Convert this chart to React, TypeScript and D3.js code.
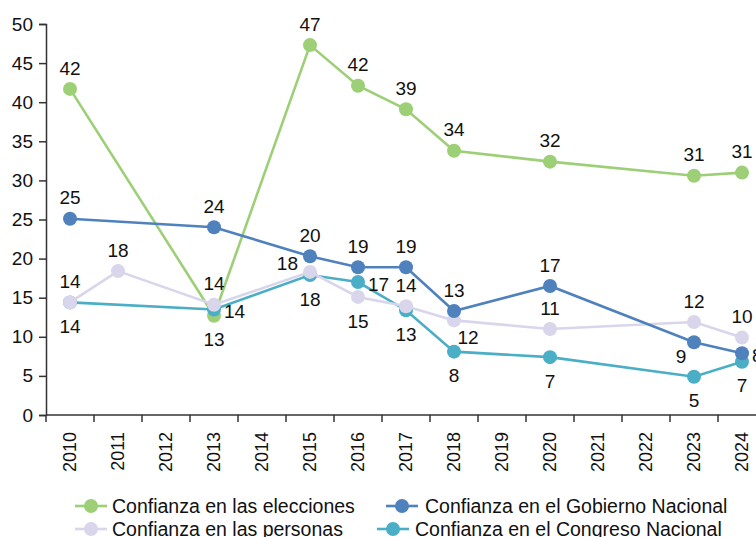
import React, { useEffect, useRef } from "react";
import * as d3 from "d3";

// all years on the category axis
const years = [
  "2010", "2011", "2012", "2013", "2014", "2015", "2016", "2017",
  "2018", "2019", "2020", "2021", "2022", "2023", "2024",
];
const yTicks = [0, 5, 10, 15, 20, 25, 30, 35, 40, 45, 50];

// Confianza en las elecciones
const eleccionesYears = ["2010", "2013", "2015", "2016", "2017", "2018", "2020", "2023", "2024"];
const elecciones = [41.7, 12.7, 47.3, 42.1, 39.1, 33.8, 32.4, 30.6, 31.0];

// Confianza en el Gobierno Nacional
const gobiernoYears = ["2010", "2013", "2015", "2016", "2017", "2018", "2020", "2023", "2024"];
const gobierno = [25.1, 24.0, 20.3, 18.9, 18.9, 13.3, 16.5, 9.3, 7.9];

// Confianza en las personas
const personasYears = ["2010", "2011", "2013", "2015", "2016", "2017", "2018", "2020", "2023", "2024"];
const personas = [14.4, 18.4, 14.1, 18.3, 15.1, 13.9, 12.1, 11.0, 11.9, 9.9];

// Confianza en el Congreso Nacional
const congresoYears = ["2010", "2013", "2015", "2016", "2017", "2018", "2020", "2023", "2024"];
const congreso = [14.4, 13.5, 17.9, 17.0, 13.4, 8.1, 7.4, 4.9, 6.8];

// where each value label sits relative to its point
const eleccionesPos = ["t", "b", "t", "t", "t", "t", "t", "t", "t"];
const gobiernoPos = ["t", "t", "t", "t", "t", "t", "t", "bl", "r"];
const personasPos = ["t", "t", "t", "l", "b", "t", "br", "t", "t", "t"];
const congresoPos = ["b", "r", "b", "r", "b", "b", "b", "b", "b"];

const series = [
  { name: "Confianza en las elecciones", years: eleccionesYears, values: elecciones, pos: eleccionesPos, color: "#9ccf76" },
  { name: "Confianza en el Congreso Nacional", years: congresoYears, values: congreso, pos: congresoPos, color: "#4aaec6" },
  { name: "Confianza en las personas", years: personasYears, values: personas, pos: personasPos, color: "#d9d5eb" },
  { name: "Confianza en el Gobierno Nacional", years: gobiernoYears, values: gobierno, pos: gobiernoPos, color: "#4f81bd" },
];

// legend order as in the picture (rows of two)
const legendOrder = [
  "Confianza en las elecciones",
  "Confianza en el Gobierno Nacional",
  "Confianza en las personas",
  "Confianza en el Congreso Nacional",
];

const FONT = "'Liberation Sans', Arial, sans-serif";

const App = () => {
  const ref = useRef<SVGSVGElement | null>(null);

  useEffect(() => {
    const width = 756;
    const height = 537;
    const left = 46;
    const top = 24;
    const bottom = 415;
    const band = 48;

    const svg = d3.select(ref.current);
    svg.selectAll("*").remove();

    const x = d3
      .scaleBand()
      .domain(years)
      .range([left, left + band * years.length])
      .padding(0);
    const y = d3.scaleLinear().domain([0, 50]).range([bottom, top]);
    const cx = (yr: string) => (x(yr) as number) + x.bandwidth() / 2;

    // y axis
    const yAxis = svg
      .append("g")
      .attr("transform", `translate(${left},0)`)
      .call(d3.axisLeft(y).tickValues(yTicks).tickSize(7).tickPadding(6));
    yAxis.select(".domain").attr("stroke", "#333").attr("stroke-width", 1.5);
    yAxis.selectAll(".tick line").attr("stroke", "#333").attr("stroke-width", 1.5);
    yAxis
      .selectAll(".tick text")
      .attr("font-family", FONT)
      .attr("font-size", 19)
      .attr("fill", "#111");

    // x axis: ticks between categories
    const xg = svg.append("g");
    xg.append("line")
      .attr("x1", left)
      .attr("x2", width + 20)
      .attr("y1", bottom)
      .attr("y2", bottom)
      .attr("stroke", "#333")
      .attr("stroke-width", 1.5);
    xg.selectAll("line.tk")
      .data(years)
      .join("line")
      .attr("class", "tk")
      .attr("x1", (d) => x(d) as number)
      .attr("x2", (d) => x(d) as number)
      .attr("y1", bottom)
      .attr("y2", bottom + 7)
      .attr("stroke", "#333")
      .attr("stroke-width", 1.5);
    xg.selectAll("text")
      .data(years)
      .join("text")
      .attr("transform", (d) => `translate(${cx(d)},${bottom + 17}) rotate(-90)`)
      .attr("text-anchor", "end")
      .attr("dy", "0.35em")
      .attr("font-family", FONT)
      .attr("font-size", 18)
      .attr("fill", "#111")
      .text((d) => d);

    const line = d3
      .line<[string, number]>()
      .x((d) => cx(d[0]))
      .y((d) => y(d[1]));

    // lines and markers
    series.forEach((s) => {
      const pts: [string, number][] = s.years.map((yr, i) => [yr, s.values[i]]);
      svg
        .append("path")
        .datum(pts)
        .attr("fill", "none")
        .attr("stroke", s.color)
        .attr("stroke-width", 2.6)
        .attr("d", line);
      svg
        .append("g")
        .selectAll("circle")
        .data(pts)
        .join("circle")
        .attr("cx", (d) => cx(d[0]))
        .attr("cy", (d) => y(d[1]))
        .attr("r", 7)
        .attr("fill", s.color);
    });

    // value labels
    const offsets: Record<string, [number, number, string]> = {
      t: [0, -21, "middle"],
      b: [0, 24, "middle"],
      r: [10, 2, "start"],
      l: [-12, -9, "end"],
      bl: [-13, 14, "middle"],
      br: [14, 17, "middle"],
    };
    series.forEach((s) => {
      svg
        .append("g")
        .selectAll("text")
        .data(s.years.map((yr, i) => ({ yr, v: s.values[i], p: s.pos[i] })))
        .join("text")
        .attr("x", (d) => cx(d.yr) + offsets[d.p][0])
        .attr("y", (d) => y(d.v) + offsets[d.p][1])
        .attr("dy", "0.35em")
        .attr("text-anchor", (d) => offsets[d.p][2])
        .attr("font-family", FONT)
        .attr("font-size", 19)
        .attr("fill", "#111")
        .text((d) => Math.round(d.v));
    });

    // legend
    const legendSlots = [
      { mx: 91, tx: 112, ty: 506 },
      { mx: 402, tx: 425, ty: 506 },
      { mx: 91, tx: 112, ty: 529 },
      { mx: 393, tx: 415, ty: 529 },
    ];
    legendOrder.forEach((name, i) => {
      const s = series.find((d) => d.name === name)!;
      const slot = legendSlots[i];
      const g = svg.append("g");
      g.append("line")
        .attr("x1", slot.mx - 16)
        .attr("x2", slot.mx + 16)
        .attr("y1", slot.ty)
        .attr("y2", slot.ty)
        .attr("stroke", s.color)
        .attr("stroke-width", 2.6);
      g.append("circle")
        .attr("cx", slot.mx)
        .attr("cy", slot.ty)
        .attr("r", 7)
        .attr("fill", s.color);
      g.append("text")
        .attr("x", slot.tx)
        .attr("y", slot.ty)
        .attr("dy", "0.35em")
        .attr("font-family", FONT)
        .attr("font-size", 19.5)
        .attr("fill", "#111")
        .text(name);
    });

    svg.attr("width", width).attr("height", height);
  }, []);

  return (
    <svg
      ref={ref}
      width={756}
      height={537}
      style={{ position: "fixed", left: 0, top: 0, background: "#fff" }}
    />
  );
};

export default App;
